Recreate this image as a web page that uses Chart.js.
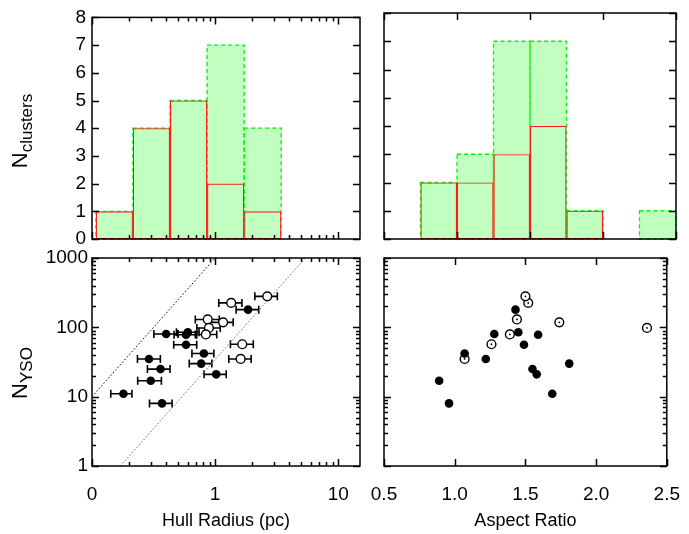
<!DOCTYPE html>
<html>
<head>
<meta charset="utf-8">
<title>Cluster sizes and YSO counts</title>
<script src="https://cdn.jsdelivr.net/npm/chart.js@4.4.1/dist/chart.umd.min.js"></script>
<style>
  html, body { margin: 0; padding: 0; background: #fff; }
  #wrap { position: relative; width: 689px; height: 534px; font-family: "Liberation Sans", Arial, sans-serif; }
  #wrap canvas { position: absolute; left: 0; top: 0; }
  .ylab { position: absolute; font-size: 22px; color: #000; white-space: nowrap; transform: translate(-50%, -50%) rotate(-90deg); }
  .ylab sub { font-size: 17px; vertical-align: -5px; }
</style>
</head>
<body>
<div id="wrap">
  <canvas id="histRadius" width="689" height="534"></canvas>
  <canvas id="histRatio" width="689" height="534"></canvas>
  <canvas id="ysoRadius" width="689" height="534"></canvas>
  <canvas id="ysoRatio" width="689" height="534"></canvas>
  <div class="ylab" style="left:22px;top:131px">N<sub>clusters</sub></div>
  <div class="ylab" style="left:22px;top:373px">N<sub>YSO</sub></div>
</div>
<script>
// histogram of hull radius (log bins, centres in pc)
var radiusBins = [0.152, 0.304, 0.608, 1.216, 2.432];
var radiusAll = [1, 4, 5, 7, 4];
var radiusRed = [1, 4, 5, 2, 1];

// histogram of aspect ratio
var ratioBins = [0.875, 1.125, 1.375, 1.625, 1.875, 2.125, 2.375];
var ratioAll = [2, 3, 7, 7, 1, 0, 1];
var ratioRed = [2, 2, 3, 4, 1, 0, 0];

// filled points
var fRadius = [0.18, 0.37, 0.30, 0.36, 0.29, 0.40, 0.58, 0.60, 0.58, 0.81, 0.77, 1.02, 1.85];
var fRadLo  = [0.142, 0.293, 0.235, 0.282, 0.234, 0.318, 0.464, 0.485, 0.461, 0.648, 0.616, 0.813, 1.48];
var fRadHi  = [0.211, 0.447, 0.366, 0.43, 0.359, 0.50, 0.708, 0.74, 0.708, 0.976, 0.94, 1.23, 2.26];
var fNyso   = [11, 8, 17, 25, 35, 80, 78, 85, 56, 42, 30, 21, 180];
var fRatio  = [1.69, 0.96, 0.89, 1.55, 1.22, 1.28, 1.59, 1.45, 1.49, 1.07, 1.81, 1.58, 1.43];

// open points
var oRadius = [1.35, 2.65, 0.87, 1.16, 0.89, 0.84, 1.66, 1.61];
var oRadLo  = [1.07, 2.10, 0.69, 0.91, 0.71, 0.69, 1.33, 1.29];
var oRadHi  = [1.65, 3.20, 1.08, 1.40, 1.10, 1.03, 2.04, 1.96];
var oNyso   = [225, 280, 130, 118, 98, 79, 57, 35];
var oRatio  = [1.52, 1.50, 1.44, 1.74, 2.36, 1.39, 1.26, 1.07];

// dotted reference lines
var lineHi = [{x: 0.1, y: 10}, {x: 1, y: 1000}];
var lineLo = [{x: 0.17, y: 1}, {x: 5.4, y: 1000}];

// ticks
var radiusTicks = [0.1, 1, 10];
var radiusTickLabels = ['0', '1', '10'];
var radiusMinor = [0.2, 0.3, 0.4, 0.5, 0.6, 0.7, 0.8, 0.9, 2, 3, 4, 5, 6, 7, 8, 9];
var ratioTicks = [0.5, 1.0, 1.5, 2.0, 2.5];
var countTicks = [0, 1, 2, 3, 4, 5, 6, 7, 8];
var nysoTicks = [1, 10, 100, 1000];
var nysoMinor = [2, 3, 4, 5, 6, 7, 8, 9, 20, 30, 40, 50, 60, 70, 80, 90, 200, 300, 400, 500, 600, 700, 800, 900];

Chart.defaults.font.family = '"Liberation Sans", Arial, sans-serif';
Chart.defaults.font.size = 18;
Chart.defaults.color = '#000';

function pairs(xs, ys) {
    return xs.map(function (x, i) { return {x: x, y: ys[i]}; });
}

// box with inward ticks on all four sides
var frame = {
    id: 'frame',
    afterDraw: function (chart, args, opts) {
        var ctx = chart.ctx, a = chart.chartArea;
        var xs = chart.scales.x, ys = chart.scales.y;
        ctx.save();
        ctx.strokeStyle = '#000';
        ctx.lineWidth = 1.5;
        ctx.beginPath();
        function xt(list, len) {
            list.forEach(function (v) {
                var p = Math.round(xs.getPixelForValue(v)) + 0.5;
                ctx.moveTo(p, a.bottom); ctx.lineTo(p, a.bottom - len);
                ctx.moveTo(p, a.top); ctx.lineTo(p, a.top + len);
            });
        }
        function yt(list, len) {
            list.forEach(function (v) {
                var p = Math.round(ys.getPixelForValue(v)) + 0.5;
                ctx.moveTo(a.left, p); ctx.lineTo(a.left + len, p);
                ctx.moveTo(a.right, p); ctx.lineTo(a.right - len, p);
            });
        }
        xt(opts.xMajor || [], 7);
        xt(opts.xMinor || [], 4);
        yt(opts.yMajor || [], 7);
        yt(opts.yMinor || [], 4);
        ctx.stroke();
        ctx.strokeRect(a.left, a.top, a.right - a.left, a.bottom - a.top);
        ctx.restore();
    }
};

// dashed outline for the green bars
var dashedBars = {
    id: 'dashedBars',
    afterDatasetDraw: function (chart, args) {
        var ds = chart.data.datasets[args.index];
        if (!ds.dashed) return;
        var ctx = chart.ctx;
        ctx.save();
        ctx.strokeStyle = '#11ee11';
        ctx.lineWidth = 1.3;
        ctx.setLineDash([4, 3]);
        args.meta.data.forEach(function (bar, i) {
            if (!ds.data[i].y) return;
            var p = bar.getProps(['x', 'y', 'base', 'width'], true);
            ctx.strokeRect(p.x - p.width / 2, p.y, p.width, p.base - p.y);
        });
        ctx.restore();
    }
};

// horizontal error bars
var errBars = {
    id: 'errBars',
    beforeDatasetsDraw: function (chart) {
        var ctx = chart.ctx, xs = chart.scales.x;
        chart.data.datasets.forEach(function (ds, i) {
            if (!ds.errLo) return;
            var meta = chart.getDatasetMeta(i);
            ctx.save();
            ctx.strokeStyle = '#000';
            ctx.lineWidth = 1.6;
            ctx.beginPath();
            meta.data.forEach(function (pt, j) {
                var x1 = xs.getPixelForValue(ds.errLo[j]);
                var x2 = xs.getPixelForValue(ds.errHi[j]);
                var y = pt.y;
                ctx.moveTo(x1, y); ctx.lineTo(x2, y);
                ctx.moveTo(x1, y - 4); ctx.lineTo(x1, y + 4);
                ctx.moveTo(x2, y - 4); ctx.lineTo(x2, y + 4);
            });
            ctx.stroke();
            ctx.restore();
        });
    }
};

function fixedTicks(list) {
    return function (scale) { scale.ticks = list.map(function (v) { return {value: v}; }); };
}
function fitWidth(w) { return function (scale) { scale.width = w; }; }
function fitHeight(h) { return function (scale) { scale.height = h; }; }

// x axes keep the (invisible) tick length so the label padding stays small
var xGrid = {display: false, drawTicks: true, tickLength: 8, offset: false};
var yGrid = {display: false, drawTicks: false};

function radiusAxis(showLabels, h) {
    return {
        type: 'logarithmic', min: 0.1, max: 15, offset: false,
        grid: xGrid, border: {display: false},
        afterBuildTicks: fixedTicks(radiusTicks),
        afterFit: fitHeight(h),
        ticks: {
            display: showLabels, autoSkip: false, maxRotation: 0, padding: 9,
            font: {size: 19},
            callback: function (v) { return radiusTickLabels[radiusTicks.indexOf(v)]; }
        },
        title: {display: showLabels, text: 'Hull Radius (pc)', padding: {top: 0, bottom: 2}}
    };
}
function ratioAxis(showLabels, h) {
    return {
        type: 'linear', min: 0.5, max: 2.5, offset: false,
        grid: xGrid, border: {display: false},
        afterBuildTicks: fixedTicks(ratioTicks),
        afterFit: fitHeight(h),
        ticks: {
            display: showLabels, autoSkip: false, maxRotation: 0, padding: 9,
            font: {size: 19},
            callback: function (v) { return v.toFixed(1); }
        },
        title: {display: showLabels, text: 'Aspect Ratio', padding: {top: 0, bottom: 2}}
    };
}
function countAxis(showLabels, w) {
    return {
        type: 'linear', min: 0, max: 8,
        grid: yGrid, border: {display: false},
        afterBuildTicks: fixedTicks(countTicks),
        afterFit: fitWidth(w),
        ticks: {display: showLabels, padding: 6, font: {size: 19}, callback: function (v) { return String(v); }}
    };
}
function nysoAxis(showLabels, w) {
    return {
        type: 'logarithmic', min: 1, max: 1000,
        grid: yGrid, border: {display: false},
        afterBuildTicks: fixedTicks(nysoTicks),
        afterFit: fitWidth(w),
        ticks: {display: showLabels, padding: 4, font: {size: 19}, callback: function (v) { return String(v); }}
    };
}

function histDatasets(bins, all, red) {
    return [{
        label: 'subset',
        data: pairs(bins, red),
        backgroundColor: 'rgba(0,0,0,0)',
        borderColor: '#ff1a1a',
        borderWidth: 1.1,
        borderSkipped: false,
        inflateAmount: 0,
        grouped: false,
        barPercentage: 1, categoryPercentage: 1
    }, {
        label: 'all',
        data: pairs(bins, all),
        backgroundColor: '#c0ffc0',
        borderWidth: 0,
        dashed: true,
        grouped: false,
        barPercentage: 1, categoryPercentage: 1
    }];
}

var common = {
    responsive: false,
    animation: false,
    events: [],
    plugins: {legend: {display: false}, tooltip: {enabled: false}}
};

function opts(padding, scales, frameOpts) {
    return Object.assign({}, common, {
        layout: {padding: padding},
        scales: scales,
        plugins: Object.assign({}, common.plugins, {frame: frameOpts})
    });
}

new Chart('histRadius', {
    type: 'bar',
    data: {datasets: histDatasets(radiusBins, radiusAll, radiusRed)},
    options: opts({left: 0, top: 13, right: 329, bottom: 0},
        {x: radiusAxis(false, 295), y: countAxis(true, 92)},
        {xMajor: radiusTicks, xMinor: radiusMinor, yMajor: countTicks}),
    plugins: [dashedBars, frame]
});

new Chart('histRatio', {
    type: 'bar',
    data: {datasets: histDatasets(ratioBins, ratioAll, ratioRed)},
    options: opts({left: 372, top: 13, right: 13, bottom: 0},
        {x: ratioAxis(false, 295), y: countAxis(false, 12)},
        {xMajor: ratioTicks, yMajor: countTicks}),
    plugins: [dashedBars, frame]
});

new Chart('ysoRadius', {
    type: 'scatter',
    data: {datasets: [{
        label: 'filled', data: pairs(fRadius, fNyso), errLo: fRadLo, errHi: fRadHi,
        pointRadius: 4.3, backgroundColor: '#000', borderWidth: 0
    }, {
        label: 'open', data: pairs(oRadius, oNyso), errLo: oRadLo, errHi: oRadHi,
        pointRadius: 4.4, backgroundColor: '#fff', borderColor: '#000', borderWidth: 1.4
    }, {
        label: 'upper', data: lineHi, showLine: true, pointRadius: 0,
        borderColor: '#000', borderWidth: 1, borderDash: [1.5, 2]
    }, {
        label: 'lower', data: lineLo, showLine: true, pointRadius: 0,
        borderColor: '#666', borderWidth: 1, borderDash: [1.5, 2]
    }]},
    options: opts({left: 0, top: 258, right: 329, bottom: 0},
        {x: radiusAxis(true, 68), y: nysoAxis(true, 92)},
        {xMajor: radiusTicks, xMinor: radiusMinor, yMajor: nysoTicks, yMinor: nysoMinor}),
    plugins: [errBars, frame]
});

new Chart('ysoRatio', {
    type: 'scatter',
    data: {datasets: [{
        label: 'filled', data: pairs(fRatio, fNyso),
        pointRadius: 4.3, backgroundColor: '#000', borderWidth: 0
    }, {
        label: 'open dot', data: pairs(oRatio, oNyso),
        pointRadius: 0.9, backgroundColor: '#000', borderWidth: 0
    }, {
        label: 'open', data: pairs(oRatio, oNyso),
        pointRadius: 4.4, backgroundColor: '#fff', borderColor: '#000', borderWidth: 1.4
    }]},
    options: opts({left: 372, top: 258, right: 13, bottom: 0},
        {x: ratioAxis(true, 68), y: nysoAxis(false, 12)},
        {xMajor: ratioTicks, yMajor: nysoTicks, yMinor: nysoMinor}),
    plugins: [frame]
});
</script>
</body>
</html>
